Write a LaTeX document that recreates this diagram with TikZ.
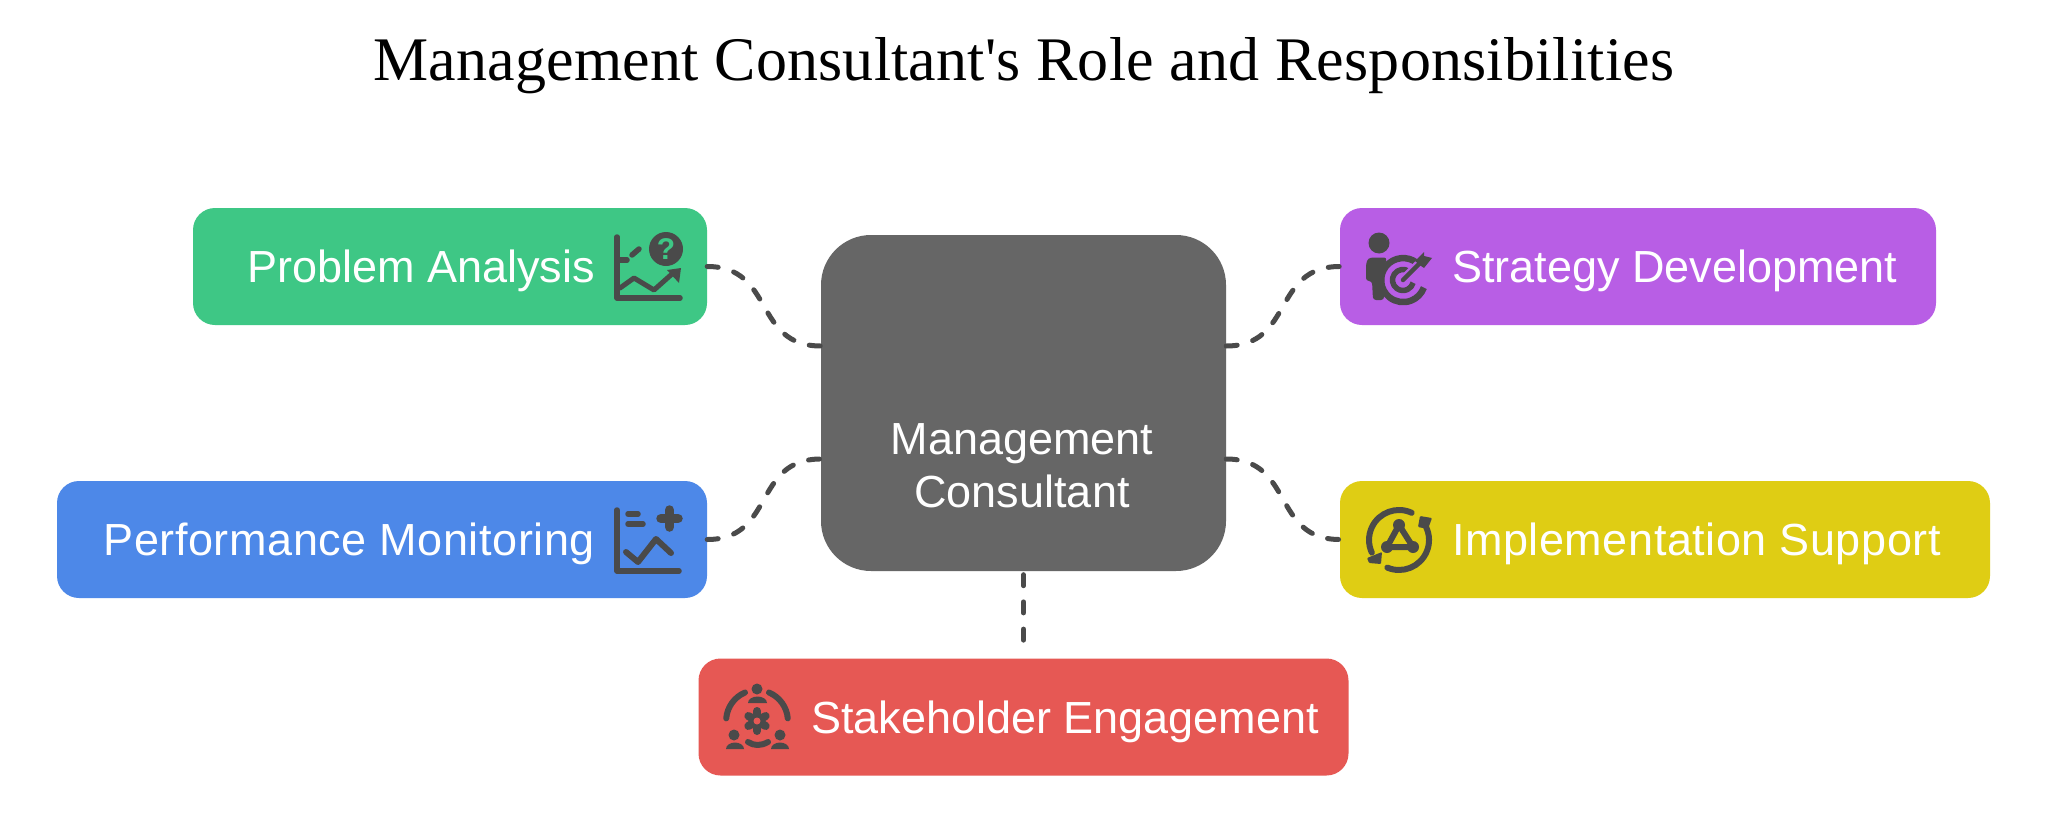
\documentclass[tikz,border=0pt]{standalone}
\usepackage{fontspec}
\usetikzlibrary{calc}
\newfontfamily\titlefont[LetterSpace=0.3]{Liberation Serif}
\newfontfamily\lblfont{Liberation Sans}
\newfontfamily\lblwide[LetterSpace=1.2]{Liberation Sans}
\definecolor{ink}{HTML}{4A4A4A}
\definecolor{cgreen}{HTML}{3EC785}
\definecolor{cpurple}{HTML}{B85EE5}
\definecolor{cblue}{HTML}{4D88E8}
\definecolor{cyellow}{HTML}{DFCD14}
\definecolor{cred}{HTML}{E65854}
\definecolor{cgray}{HTML}{666666}
\tikzset{
 x=1pt,y=-1pt,
 boxn/.style={rectangle,rounded corners=22pt,inner sep=0pt,minimum height=117pt},
 hub/.style={rectangle,rounded corners=50pt,inner sep=0pt,fill=cgray,minimum width=405pt,minimum height=336pt},
 lbl/.style={inner sep=0pt,text=white,font=\lblfont\fontsize{45}{53}\selectfont},
 lblw/.style={inner sep=0pt,text=white,font=\lblwide\fontsize{45}{53}\selectfont},
 conn/.style={draw=ink,line width=5pt,line cap=round,dash pattern=on 11pt off 16.2pt},
 il/.style={draw=ink,line width=5.5pt,line cap=round,line join=round},
}
\begin{document}
\begin{tikzpicture}
\useasboundingbox (0,0) rectangle (2048,819);
\fill[white] (0,0) rectangle (2048,819);
\node[inner sep=0pt,font=\titlefont\fontsize{62}{70}\selectfont,anchor=base] (title) at (1024,80) {Management Consultant's Role and Responsibilities};
% boxes
\node[hub] (hubn) at (1023.5,403) {};
\node[lbl,align=center] (hubt) at (1022,466) {Management\\Consultant};
\node[boxn,fill=cgreen,minimum width=514pt] (prob) at (450,266.5) {};
\node[boxn,fill=cpurple,minimum width=596pt] (strat) at (1638,266.5) {};
\node[boxn,fill=cblue,minimum width=650pt] (perf) at (382,539.5) {};
\node[boxn,fill=cyellow,minimum width=650pt] (impl) at (1665,539.5) {};
\node[boxn,fill=cred,minimum width=650pt] (stake) at (1023.5,717) {};
\node[lbl,anchor=base east] (probt) at (595,282) {Problem Analysis};
\node[lbl,anchor=base west] (stratt) at (1452,282) {Strategy Development};
\node[lblw,anchor=base east] (perft) at (595,555) {Performance Monitoring};
\node[lblw,anchor=base west] (implt) at (1452,555) {Implementation Support};
\node[lbl,anchor=base west] (staket) at (811,733) {Stakeholder Engagement};
% connectors
\coordinate (hubA) at ($(hubn.west)+(0,-57)$);
\coordinate (hubB) at ($(hubn.west)+(0,56)$);
\coordinate (hubC) at ($(hubn.east)+(0,-57)$);
\coordinate (hubD) at ($(hubn.east)+(0,56)$);
\coordinate (hubS) at ($(hubn.south)+(0,3.5)$);
\coordinate (stakeN) at ($(stake.north)+(0,-12)$);
\draw[conn] (prob.east) .. controls +(68,0) and +(-68,0) .. (hubA);
\draw[conn] (perf.east) .. controls +(68,0) and +(-68,0) .. (hubB);
\draw[conn] (hubC) .. controls +(68,0) and +(-68,0) .. (strat.west);
\draw[conn] (hubD) .. controls +(68,0) and +(-68,0) .. (impl.west);
\draw[conn] (hubS) -- (stakeN);
% icon: problem analysis
\draw[il] (617,237) -- (617,298) -- (680,298);
\draw[il] (617,260) -- (627,260);
\draw[il] (632,255) -- (639,249);
\draw[il,line width=5pt] (620,288) -- (634,278) -- (654,290) -- (672,274);
\fill[ink] (667,270) -- (681,268) -- (679,283) -- cycle;
\fill[ink] (666,249) circle (17);
\node[inner sep=0pt,text=cgreen,font=\lblfont\bfseries\fontsize{30}{30}\selectfont] (qm) at (666,249) {?};
% icon: performance
\draw[il] (617,510) -- (617,571) -- (679,571);
\draw[il] (628,514) -- (638,514);
\draw[il] (628,524) -- (643,524);
\draw[il,line width=6pt] (626,552) -- (638,562) -- (656,539) -- (671,553);
\draw[ink,line width=9.5pt,line join=round,line cap=round] (669.5,510) -- (669.5,527) (661,518.5) -- (678,518.5);
% icon: strategy
\fill[ink] (1379,243) circle (10.5);
\fill[ink,rounded corners=3pt] (1366,281) -- (1366,264) -- (1368,258) -- (1375,257.5) -- (1387,257.5) -- (1384,268) -- (1384,300) -- (1373,300) -- (1372,281) -- cycle;
\draw[il,line width=6.5pt,line cap=butt] (1417,263) arc[start angle=-51,end angle=-340,radius=22];
\draw[il,line width=5.5pt,line cap=butt] (1409,271.4) arc[start angle=-55,end angle=-345,radius=10.5];
\draw[cpurple,line width=9pt] (1403,280) -- (1420,263);
\draw[ink,line width=4.5pt,line cap=round] (1403,280) -- (1421,262);
\fill[ink] (1415,261) -- (1424,252) -- (1424,256) -- (1432,258) -- (1424,268) -- (1421,266) -- cycle;
% icon: implementation
\draw[il,line width=6pt] (1411.7,512.8) arc[start angle=-65,end angle=-205,radius=30];
\draw[il,line width=6pt] (1387.3,567.6) arc[start angle=113,end angle=-25,radius=30];
\fill[ink,rounded corners=1pt] (1367,558) -- (1382,552) -- (1381,564) -- (1369,563) -- cycle;
\fill[ink,rounded corners=1pt] (1418,527) -- (1420,516) -- (1432,518) -- (1428,529) -- cycle;
\draw[ink,line width=6pt,line join=round] (1399,525) -- (1387,547) -- (1413,547) -- cycle;
\fill[ink] (1399,525) circle (6) (1387,547) circle (6) (1413,547) circle (6);
% icon: stakeholder
\fill[ink] (757,689) circle (5.5);
\fill[ink] (748,703) arc[start angle=180,end angle=360,x radius=9.5,y radius=6.5] -- cycle;
\draw[il,line width=6pt] (745,692.5) arc[start angle=-113,end angle=-175,radius=31];
\draw[il,line width=6pt] (769,692.5) arc[start angle=-67,end angle=-5,radius=31];
\fill[ink] (734,735) circle (5.5);
\fill[ink] (726,749) arc[start angle=180,end angle=360,x radius=9,y radius=6.5] -- cycle;
\fill[ink] (780,735) circle (5.5);
\fill[ink] (771,749) arc[start angle=180,end angle=360,x radius=9,y radius=6.5] -- cycle;
\draw[il,line width=6pt] (748,742) .. controls (754,746) and (761,746) .. (768,742);
\foreach \a in {30,90,150} {\draw[ink,line width=8pt,line cap=round] ($(757,721)+(\a:10)$) -- ($(757,721)+(\a+180:10)$);}
\fill[ink] (757,721) circle (8.5);
\fill[cred] (757,721) circle (3.5);
\end{tikzpicture}
\end{document}
